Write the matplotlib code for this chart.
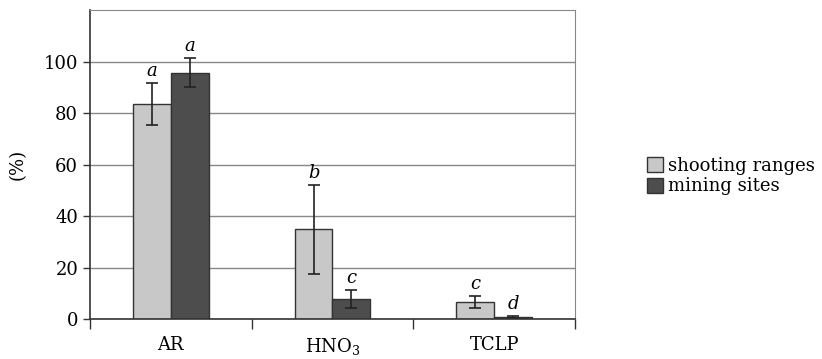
import matplotlib
matplotlib.use("Agg")
import matplotlib.pyplot as plt
import numpy as np
from matplotlib.patches import Patch

plt.rcParams['font.family'] = ['DejaVu Serif']
plt.rcParams['mathtext.fontset'] = 'dejavuserif'

categories = ['AR', 'HNO$_3$', 'TCLP']
series_names = ['shooting ranges', 'mining sites']
shooting = [83.5, 34.8, 6.6]
shooting_err = [8.3, 17.4, 2.2]
mining = [95.7, 7.8, 0.8]
mining_err = [5.5, 3.4, 0.3]
shooting_letters = ['a', 'b', 'c']
mining_letters = ['a', 'c', 'd']

fig = plt.figure(figsize=(8.22, 3.59), dpi=100)
ax = fig.add_axes([0.1095, 0.1114, 0.59, 0.8606])

x = np.arange(len(categories))
w = 0.235
light = '#c8c8c8'
dark = '#4d4d4d'
edge = '#333333'

ax.set_axisbelow(True)
ax.yaxis.grid(True, color='#888888', linewidth=1)
b1 = ax.bar(x - w/2, shooting, w, yerr=shooting_err, color=light, edgecolor=edge,
            linewidth=1, capsize=4, error_kw=dict(elinewidth=1.2, capthick=1.2, ecolor='#222222'))
b2 = ax.bar(x + w/2, mining, w, yerr=mining_err, color=dark, edgecolor=edge,
            linewidth=1, capsize=4, error_kw=dict(elinewidth=1.2, capthick=1.2, ecolor='#222222'))

for i in range(len(x)):
    ax.text(x[i] - w/2, shooting[i] + shooting_err[i] + 1.2, shooting_letters[i],
            ha='center', va='bottom', style='italic', fontsize=13)
    ax.text(x[i] + w/2, mining[i] + mining_err[i] + 1.2, mining_letters[i],
            ha='center', va='bottom', style='italic', fontsize=13)

ax.set_xlim(-0.5, 2.5)
ax.set_ylim(0, 120)
ax.set_yticks([0, 20, 40, 60, 80, 100])
ax.tick_params(axis='y', labelsize=13, length=5, width=1, color='#333333')
ax.set_xticks([-0.5, 0.5, 1.5, 2.5])
ax.set_xticklabels([])
ax.set_xticks(x, minor=True)
ax.set_xticklabels(categories, minor=True, fontsize=13)
ax.tick_params(axis='x', which='major', length=7, width=1, color='#333333', direction='out')
ax.tick_params(axis='x', which='minor', length=0, pad=12)

ax.set_ylabel('(%)', fontsize=13, labelpad=12)

ax.spines['left'].set_color('#333333')
ax.spines['bottom'].set_color('#333333')
ax.spines['left'].set_linewidth(1.2)
ax.spines['bottom'].set_linewidth(1.2)
ax.spines['top'].set_color('#888888')
ax.spines['right'].set_color('#888888')

handles = [Patch(facecolor=light, edgecolor=edge), Patch(facecolor=dark, edgecolor=edge)]
fig.legend(handles, series_names, loc='center left', bbox_to_anchor=(0.778, 0.51),
           frameon=False, fontsize=13, handlelength=0.9, handleheight=0.9,
           handletextpad=0.3, labelspacing=0.15, borderaxespad=0)

fig.savefig('out.png', dpi=100)
